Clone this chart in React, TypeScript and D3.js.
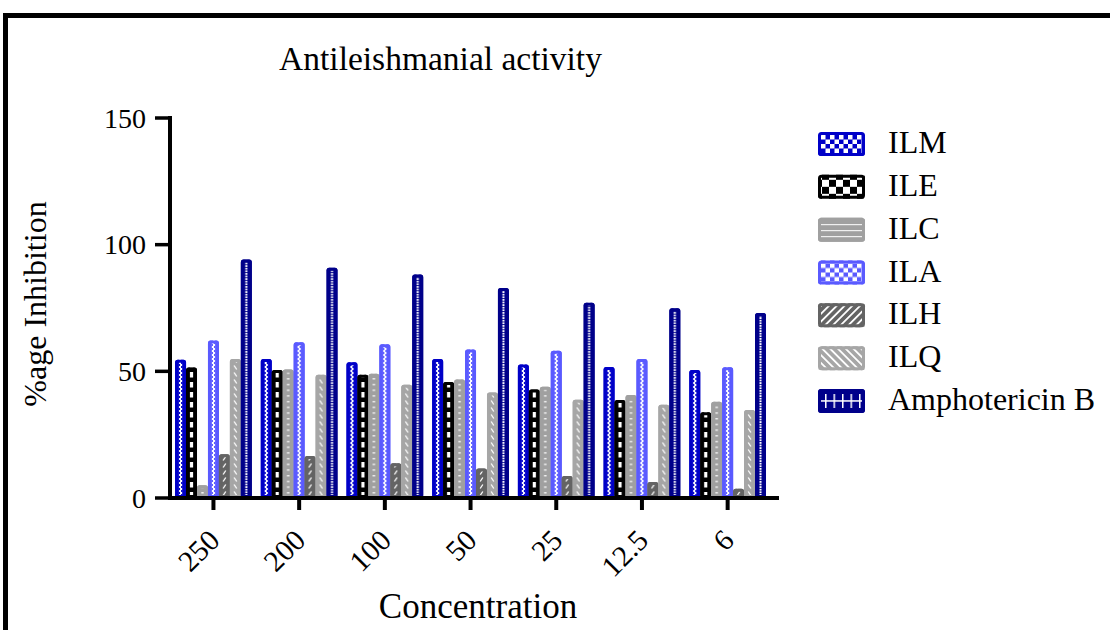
import React from "react";
import * as d3 from "d3";

// Concentrations tested (x axis groups)
const categories = ["250", "200", "100", "50", "25", "12.5", "6"];

// Compounds (series)
const seriesNames = ["ILM", "ILE", "ILC", "ILA", "ILH", "ILQ", "Amphotericin B"];

// % inhibition per compound, one value per concentration
const ilm = [54.6, 54.9, 53.6, 54.9, 52.7, 51.7, 50.5];
const ile = [51.5, 50.5, 48.7, 45.8, 42.8, 38.7, 33.8];
const ilc = [5.0, 50.7, 49.0, 46.8, 43.9, 40.7, 38.0];
const ila = [62.2, 61.5, 60.7, 58.6, 58.1, 54.9, 51.6];
const ilh = [17.3, 16.6, 13.7, 11.6, 8.7, 6.3, 3.7];
const ilq = [54.9, 48.7, 44.7, 41.6, 38.8, 36.8, 34.7];
const amphotericinB = [94.1, 90.9, 88.2, 82.9, 77.1, 74.9, 73.0];

const seriesValues = [ilm, ile, ilc, ila, ilh, ilq, amphotericinB];

const yTicks = [0, 50, 100, 150];

const seriesColors = ["#0000c8", "#000000", "#a0a0a0", "#5a5aff", "#646464", "#a6a6a6", "#00008a"];
type Kind = "check" | "block" | "dash" | "slash" | "backslash" | "dot";
const seriesKinds: Kind[] = ["check", "block", "dash", "check", "slash", "backslash", "dot"];

const FONT = "'Liberation Serif', 'Times New Roman', serif";
const W = 1110;
const H = 630;

const x = d3.scaleBand<string>().domain(categories).range([170.6, 770.5]).padding(0);
const xInner = d3
  .scaleBand<string>()
  .domain(seriesNames)
  .range([0, x.bandwidth()])
  .paddingInner(0)
  .paddingOuter(0.41);
const y = d3.scaleLinear().domain([0, 150]).range([498, 118]);
const legendY = d3.scalePoint<string>().domain(seriesNames).range([144, 401]);

const axisX0 = 170;
const axisX1 = 779;

// Fill pattern for one narrow bar; tile is aligned to the bar's left edge.
function barPattern(id: string, kind: Kind, color: string, bx: number, w: number) {
  const c = w / 2;
  let period = 4;
  let marks: React.ReactNode = null;
  if (kind === "check") {
    period = 4;
    marks = (
      <>
        <rect x={c - 1.6} y={0} width={3.2} height={4} fill="#fff" />
        <rect x={c - 1.6} y={0} width={1.1} height={2} fill={color} />
        <rect x={c + 0.5} y={2} width={1.1} height={2} fill={color} />
      </>
    );
  } else if (kind === "block") {
    period = 10;
    marks = <rect x={c - 1.6} y={2} width={3.2} height={5.5} fill="#fff" />;
  } else if (kind === "dash") {
    period = 5.7;
    marks = <rect x={c - 1.2} y={2} width={2.4} height={1.3} fill="#fff" />;
  } else if (kind === "slash") {
    period = 7;
    marks = <line x1={c - 1.3} y1={5.5} x2={c + 1.3} y2={1.5} stroke="#fff" strokeWidth={1.3} />;
  } else if (kind === "backslash") {
    period = 7;
    marks = <line x1={c - 1.3} y1={1.5} x2={c + 1.3} y2={5.5} stroke="#fff" strokeWidth={1.3} />;
  } else {
    period = 2.6;
    marks = <rect x={c - 1} y={0} width={2} height={1.8} fill="#fff" />;
  }
  return (
    <pattern key={id} id={id} patternUnits="userSpaceOnUse" x={bx} y={0} width={w} height={period}>
      <rect width={w} height={period} fill={color} />
      {marks}
    </pattern>
  );
}

// Larger fill patterns used by the legend swatches.
function legendPattern(id: string, kind: Kind, color: string, sx: number, sy: number) {
  if (kind === "check") {
    return (
      <pattern key={id} id={id} patternUnits="userSpaceOnUse" x={sx + 3} y={sy + 3} width={9} height={9}>
        <rect width={9} height={9} fill={color} />
        <rect x={0} y={0} width={4.5} height={4.5} fill="#fff" />
        <rect x={4.5} y={4.5} width={4.5} height={4.5} fill="#fff" />
      </pattern>
    );
  }
  if (kind === "block") {
    return (
      <pattern key={id} id={id} patternUnits="userSpaceOnUse" x={sx + 4} y={sy + 5} width={14} height={14}>
        <rect width={14} height={14} fill={color} />
        <rect x={0} y={0} width={7} height={7} fill="#fff" />
        <rect x={7} y={7} width={7} height={7} fill="#fff" />
      </pattern>
    );
  }
  if (kind === "dash") {
    return (
      <pattern key={id} id={id} patternUnits="userSpaceOnUse" x={sx} y={sy + 1.5} width={10} height={6}>
        <rect width={10} height={6} fill={color} />
        <rect x={0} y={5} width={10} height={1.6} fill="#fff" />
      </pattern>
    );
  }
  if (kind === "slash" || kind === "backslash") {
    return (
      <pattern
        key={id}
        id={id}
        patternUnits="userSpaceOnUse"
        x={sx}
        y={sy}
        width={5.5}
        height={10}
        patternTransform={`rotate(${kind === "slash" ? 45 : -45})`}
      >
        <rect width={5.5} height={10} fill={color} />
        <rect x={0} y={0} width={1.8} height={10} fill="#fff" />
      </pattern>
    );
  }
  return (
    <pattern key={id} id={id} patternUnits="userSpaceOnUse" x={sx + 7} y={sy} width={8.5} height={24}>
      <rect width={8.5} height={24} fill={color} />
      <rect x={0} y={5} width={1.5} height={14} fill="#fff" />
      <rect x={0} y={11.2} width={8.5} height={1.5} fill="#fff" />
    </pattern>
  );
}

export default function App() {
  const bw = xInner.bandwidth();

  const bars = seriesNames.flatMap((name, si) =>
    categories.map((cat, ci) => {
      const v = seriesValues[si][ci];
      const bx = (x(cat) ?? 0) + (xInner(name) ?? 0);
      const top = y(v);
      const h = y(0) - top;
      return { id: `bar-${si}-${ci}`, si, bx, top, h };
    })
  );

  const swatchX = 818;
  const swatchW = 47;
  const swatchH = 24;

  return (
    <svg
      width={W}
      height={H}
      viewBox={`0 0 ${W} ${H}`}
      style={{ position: "absolute", left: 0, top: 0, background: "#fff" }}
      fontFamily={FONT}
    >
      <defs>
        {bars.map((b) => barPattern(`p-${b.id}`, seriesKinds[b.si], seriesColors[b.si], b.bx, bw))}
        {seriesNames.map((name, si) =>
          legendPattern(
            `lp-${si}`,
            seriesKinds[si],
            seriesColors[si],
            swatchX,
            (legendY(name) ?? 0) - swatchH / 2
          )
        )}
      </defs>

      <rect x={0} y={0} width={W} height={H} fill="#fff" />

      {/* outer frame */}
      <rect x={5.5} y={15.5} width={1300} height={800} fill="none" stroke="#000" strokeWidth={5} />

      {/* title */}
      <text x={440.5} y={70} fontSize={33.5} textAnchor="middle" fill="#000">
        Antileishmanial activity
      </text>

      {/* bars */}
      {bars.map((b) => (
        <g key={b.id}>
          <rect x={b.bx} y={b.top} width={bw} height={b.h} rx={2.5} fill={`url(#p-${b.id})`} />
          <rect
            x={b.bx + 1.5}
            y={b.top + 1.5}
            width={bw - 3}
            height={Math.max(0, b.h - 3)}
            rx={1.5}
            fill="none"
            stroke={seriesColors[b.si]}
            strokeWidth={3}
          />
        </g>
      ))}

      {/* y axis */}
      <line x1={axisX0} y1={y(150) - 2} x2={axisX0} y2={y(0) + 2} stroke="#000" strokeWidth={4} />
      {yTicks.map((t) => (
        <g key={`yt-${t}`}>
          <line x1={axisX0 - 15} y1={y(t)} x2={axisX0} y2={y(t)} stroke="#000" strokeWidth={3.5} />
          <text x={146} y={y(t) + 9.5} fontSize={28} textAnchor="end" fill="#000">
            {t}
          </text>
        </g>
      ))}

      {/* x axis */}
      <line x1={axisX0 - 2} y1={y(0)} x2={axisX1} y2={y(0)} stroke="#000" strokeWidth={4} />
      {categories.map((cat) => {
        const cx = (x(cat) ?? 0) + x.bandwidth() / 2;
        return (
          <g key={`xt-${cat}`}>
            <line x1={cx} y1={y(0)} x2={cx} y2={y(0) + 12} stroke="#000" strokeWidth={4} />
            <text
              transform={`translate(${cx + 8},${y(0) + 44}) rotate(-45)`}
              fontSize={29.5}
              textAnchor="end"
              fill="#000"
            >
              {cat}
            </text>
          </g>
        );
      })}

      {/* axis titles */}
      <text x={478} y={617.5} fontSize={35} textAnchor="middle" fill="#000">
        Concentration
      </text>
      <text transform="translate(46,304) rotate(-90)" fontSize={32} textAnchor="middle" fill="#000">
        %age Inhibition
      </text>

      {/* legend */}
      {seriesNames.map((name, si) => {
        const cy = legendY(name) ?? 0;
        const sy = cy - swatchH / 2;
        return (
          <g key={`lg-${name}`}>
            <rect x={swatchX} y={sy} width={swatchW} height={swatchH} rx={3} fill={`url(#lp-${si})`} />
            <rect
              x={swatchX + 1.5}
              y={sy + 1.5}
              width={swatchW - 3}
              height={swatchH - 3}
              rx={2}
              fill="none"
              stroke={seriesColors[si]}
              strokeWidth={3}
            />
            <text x={888} y={cy + 9} fontSize={32} fill="#000">
              {name}
            </text>
          </g>
        );
      })}
    </svg>
  );
}
